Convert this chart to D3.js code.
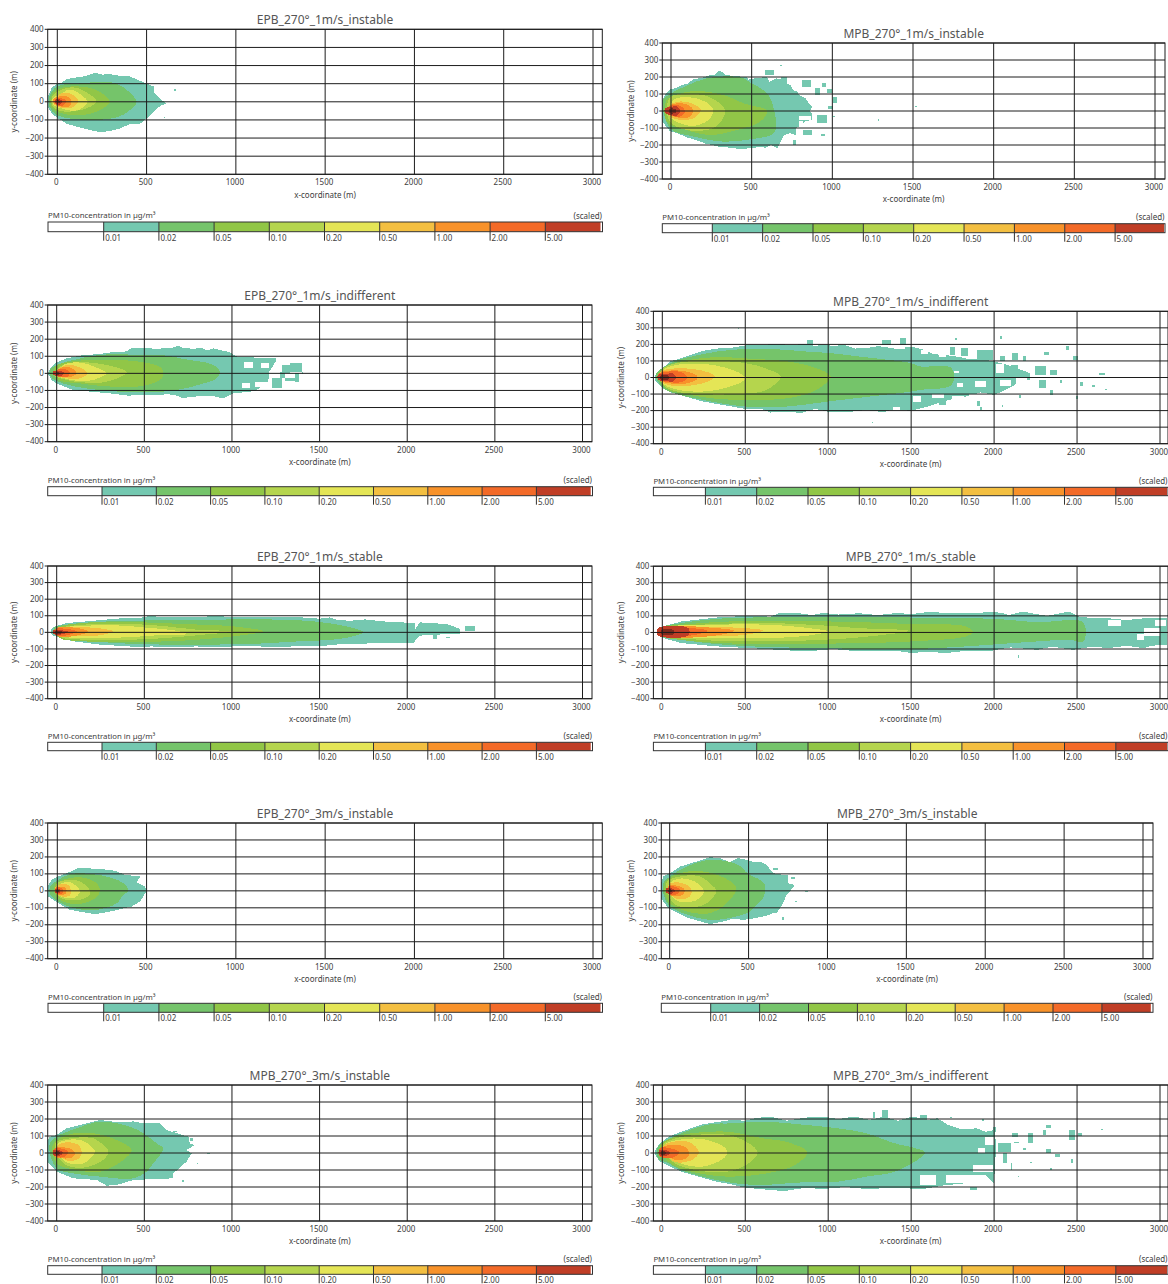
<!DOCTYPE html>
<html>
<head>
<meta charset="utf-8">
<script src="https://cdnjs.cloudflare.com/ajax/libs/d3/7.8.5/d3.min.js"></script>
<style>
	html, body { margin: 0; padding: 0; background: #fff; }
	svg { display: block; }
	text { font-family: "Noto Sans", "Open Sans", sans-serif; fill: #404040; }
</style>
</head>
<body>
<div class="chart"></div>
<script>
const panelTitles = [
	"EPB_270°_1m/s_instable", "MPB_270°_1m/s_instable",
	"EPB_270°_1m/s_indifferent", "MPB_270°_1m/s_indifferent",
	"EPB_270°_1m/s_stable", "MPB_270°_1m/s_stable",
	"EPB_270°_3m/s_instable", "MPB_270°_3m/s_instable",
	"MPB_270°_3m/s_instable", "MPB_270°_3m/s_indifferent"
];
const xTicks = [0, 500, 1000, 1500, 2000, 2500, 3000];
const yTicks = [-400, -300, -200, -100, 0, 100, 200, 300, 400];
const legendLabels = ["0.01", "0.02", "0.05", "0.10", "0.20", "0.50", "1.00", "2.00", "5.00"];
const bandColors = ["#74c8b0", "#75c46b", "#91c646", "#b5d54e", "#e4e556", "#f3bf41", "#f8922a", "#f36a28", "#c03e26", "#7d2a1a"];

// plume outlines per panel, one per concentration class, as [x, y] in metres
const p1Bands = [
	[[-50,35],[-30,80],[0,100],[30,108],[50,125],[110,135],[160,142],[210,160],[250,150],[295,152],[340,145],[400,142],[450,122],[500,100],[540,85],[545,45],[575,20],[608,-10],[575,-24],[558,-37],[510,-83],[465,-120],[410,-122],[350,-147],[300,-160],[240,-168],[160,-150],[110,-138],[50,-120],[0,-88],[-30,-65],[-50,-35]],
	[[-45,30],[0,85],[110,100],[315,105],[390,65],[445,0],[425,-30],[350,-80],[200,-100],[0,-75],[-45,-25]],
	[[-35,30],[0,68],[90,85],[220,65],[295,0],[240,-45],[125,-75],[0,-55],[-35,-25]],
	[[-30,25],[0,55],[90,80],[175,45],[220,0],[145,-42],[50,-55],[0,-45],[-30,-20]],
	[[-25,20],[10,37],[70,68],[135,37],[170,0],[145,-30],[100,-50],[25,-37],[-25,-15]],
	[[-20,15],[-10,24],[33,50],[80,42],[118,5],[80,-32],[15,-32],[-20,-12]],
	[[-22,12],[15,30],[60,28],[80,0],[60,-28],[15,-25],[-18,-8]],
	[[-15,10],[10,22],[50,5],[30,-22],[-5,-18],[-15,-5]],
	[[-12,8],[10,15],[30,0],[15,-15],[-5,-12]],
	[[-5,6],[10,8],[16,0],[10,-8],[-3,-6]]
];
const p1Holes = [];
const p1Specks = [[652,665,68,62],[595,602,-83,-90]];

const p2Bands = [
	[[-54,65],[-37,95],[-6,127],[30,135],[66,153],[100,160],[139,186],[190,195],[243,212],[270,214],[295,237],[320,230],[336,212],[400,205],[471,200],[480,185],[540,195],[595,200],[610,170],[650,192],[710,182],[720,160],[739,153],[760,120],[782,114],[800,90],[834,75],[850,50],[875,22],[860,0],[875,-20],[875,-53],[830,-60],[803,-92],[772,-100],[772,-141],[735,-130],[700,-145],[680,-180],[658,-220],[620,-200],[590,-215],[533,-214],[480,-220],[430,-225],[370,-215],[305,-214],[260,-200],[222,-194],[150,-170],[97,-155],[40,-130],[-6,-120],[-54,-63]],
	[[-48,65],[-6,100],[97,149],[222,192],[430,198],[500,163],[600,100],[640,0],[650,-110],[620,-141],[490,-167],[326,-180],[139,-150],[-6,-102]],
	[[-27,65],[35,94],[139,118],[326,94],[450,45],[595,0],[553,-63],[408,-112],[243,-141],[97,-112],[-27,-63]],
	[[-6,80],[118,100],[243,80],[336,5],[284,-88],[160,-118],[35,-92],[-20,-40]],
	[[15,65],[118,80],[212,55],[263,5],[232,-53],[139,-88],[56,-72],[-10,-30]],
	[[-6,35],[46,55],[129,45],[185,5],[139,-43],[35,-49],[-20,-20]],
	[[-16,25],[35,45],[108,35],[139,0],[108,-37],[35,-37],[-20,-10]],
	[[-27,17],[25,35],[66,25],[87,0],[66,-30],[10,-30],[-27,-10]],
	[[-37,15],[0,25],[40,25],[60,0],[40,-25],[0,-25],[-37,-10]],
	[[-10,12],[25,12],[35,0],[25,-12],[-10,-12]]
];
const p2Holes = [[793,865,-30,-53],[793,820,-60,-100]];
const p2Specks = [[585,637,240,210],[680,720,200,170],[755,775,-170,-200],[813,865,182,143],[895,925,133,94],[938,960,162,143],[965,1000,127,104],[1006,1030,84,45],[973,1006,29,10],[906,970,-24,-73],[820,875,-112,-141],[930,955,-137,-147],[1280,1292,-47,-57],[1512,1522,31,24],[1006,1014,-28,-34],[678,686,272,266]];

const p3Bands = [
	[[-48,6],[-29,40],[0,65],[57,88],[133,104],[247,114],[342,127],[400,128],[420,145],[456,150],[532,150],[560,140],[610,148],[650,148],[694,160],[720,150],[780,143],[820,150],[860,135],[894,147],[940,135],[989,123],[1027,98],[1141,92],[1249,92],[1249,68],[1211,6],[1207,-53],[1131,-104],[1008,-118],[950,-147],[900,-135],[817,-131],[770,-140],[713,-143],[670,-125],[627,-123],[530,-128],[470,-125],[409,-131],[330,-120],[247,-112],[95,-98],[0,-59],[-29,-39],[-48,-6]],
	[[-38,20],[0,49],[95,78],[247,108],[494,108],[627,104],[722,84],[894,49],[931,6],[913,-29],[817,-65],[684,-98],[494,-112],[247,-98],[95,-75],[0,-45],[-38,-15]],
	[[-10,39],[114,73],[323,78],[494,65],[600,29],[600,-29],[494,-73],[323,-78],[133,-59],[0,-33]],
	[[19,39],[133,65],[285,49],[400,6],[285,-49],[152,-53],[57,-39],[-15,-10]],
	[[38,49],[133,63],[228,33],[285,0],[247,-25],[171,-45],[57,-33],[5,-10]],
	[[19,33],[76,49],[143,29],[175,0],[133,-29],[57,-29],[0,-10]],
	[[10,25],[57,39],[95,25],[114,0],[85,-20],[30,-22],[-10,-5]],
	[[-5,18],[40,25],[70,15],[76,0],[60,-20],[10,-20],[-10,-5]],
	[[-19,12],[10,15],[38,8],[38,-8],[10,-15],[-19,-8]],
	[[-5,6],[15,6],[18,0],[15,-6],[-5,-6]]
];
const p3Holes = [[1070,1122,68,33],[1163,1210,59,33],[1055,1103,-59,-88],[1131,1207,-53,-78]];
const p3Specks = [[1226,1283,-29,-84],[1283,1331,49,0],[1331,1397,59,8],[1274,1303,10,-30],[1303,1360,-25,-45],[1360,1380,0,-49],[1397,1405,6,-4]];

const p4Bands = [
	[[-47,0],[-36,26],[0,56],[49,97],[114,117],[243,161],[371,181],[420,180],[500,194],[600,198],[714,202],[780,195],[865,205],[920,190],[972,198],[1040,190],[1090,198],[1160,175],[1230,177],[1300,190],[1400,175],[1498,187],[1570,170],[1640,140],[1700,137],[1780,125],[1830,117],[1930,110],[2002,97],[2100,70],[2217,26],[2217,-14],[2150,-30],[2080,-70],[2002,-105],[1920,-90],[1830,-115],[1750,-130],[1660,-155],[1600,-175],[1498,-202],[1400,-190],[1330,-210],[1230,-196],[1110,-210],[998,-206],[920,-190],[840,-214],[736,-206],[650,-212],[600,-190],[500,-190],[400,-172],[243,-145],[49,-89],[0,-64],[-47,-14]],
	[[-40,16],[6,60],[71,97],[243,141],[414,167],[650,173],[865,157],[1015,147],[1187,127],[1358,107],[1498,87],[1552,67],[1745,56],[1745,-44],[1552,-75],[1498,-85],[1251,-115],[998,-145],[758,-175],[500,-175],[243,-135],[71,-95],[6,-64]],
	[[-26,20],[28,66],[114,97],[328,123],[536,113],[758,97],[929,56],[1015,6],[929,-75],[758,-125],[536,-135],[328,-129],[114,-95],[28,-70]],
	[[-5,46],[71,83],[243,101],[500,87],[629,52],[714,6],[629,-75],[500,-97],[243,-101],[71,-81],[0,-40]],
	[[6,46],[71,73],[243,83],[393,56],[496,6],[496,-14],[393,-60],[243,-85],[71,-69],[0,-30]],
	[[-15,32],[49,52],[178,52],[275,32],[318,6],[285,-20],[178,-48],[49,-48],[-15,-20]],
	[[-15,26],[49,42],[146,36],[210,10],[210,-10],[146,-36],[49,-36],[-15,-16]],
	[[-26,20],[38,36],[114,32],[146,10],[146,-10],[114,-28],[38,-28],[-26,-12]],
	[[-26,16],[20,22],[70,22],[82,0],[70,-22],[20,-22],[-26,-12]],
	[[-10,12],[35,14],[45,0],[35,-14],[-10,-12]]
];
const p4Holes = [[1670,1710,167,125],[1830,1880,147,110],[1777,1815,-34,-60],[1884,1950,-24,-55],[2013,2060,80,30],[2034,2100,-14,-50],[2131,2200,-4,-40],[1510,1560,-110,-150],[1627,1700,-100,-125],[1745,1820,-110,-140],[1850,1990,-100,-140],[1390,1430,-180,-200],[1405,1460,195,170],[1560,1600,165,145],[1920,1960,140,115],[1760,1790,40,25],[1640,1660,30,15]];
const p4Specks = [[2034,2045,248,234],[2109,2142,147,107],[2174,2195,127,97],[2303,2328,157,137],[2431,2449,188,167],[2474,2506,127,107],[2249,2313,67,16],[2335,2378,46,16],[2270,2313,-14,-65],[2399,2410,-14,-34],[2517,2534,-28,-54],[2592,2609,-44,-56],[2635,2667,30,16],[2667,2678,-68,-76],[2491,2506,-109,-129],[2335,2356,-75,-105],[1895,1916,-145,-175],[1912,1927,-181,-198],[2152,2163,-105,-121],[2045,2056,-169,-179],[1262,1270,-268,-276],[457,465,302,294],[1766,1775,236,228],[1734,1766,187,137],[1798,1841,177,127],[1895,1991,167,107],[2034,2067,127,97],[2099,2142,77,36],[1670,1712,-125,-165],[875,908,228,198],[1326,1380,228,198],[1433,1470,238,198]];

const p5Bands = [
	[[-34,16],[-10,36],[57,56],[209,70],[342,83],[480,88],[530,98],[627,91],[700,95],[800,92],[900,98],[1008,93],[1150,92],[1250,95],[1388,93],[1430,85],[1502,83],[1560,90],[1600,75],[1673,70],[1760,78],[1863,66],[2044,56],[2044,16],[2072,60],[2224,50],[2300,22],[2300,-10],[2148,-14],[2072,-20],[2034,-64],[1863,-64],[1578,-74],[1500,-85],[1400,-80],[1293,-89],[1150,-85],[1008,-85],[900,-90],[800,-85],[627,-89],[540,-85],[475,-89],[247,-74],[95,-54],[-10,-24],[-34,-10]],
	[[-19,26],[57,46],[209,62],[437,70],[817,76],[1293,76],[1502,62],[1692,26],[1749,0],[1692,-24],[1578,-44],[1388,-54],[1103,-70],[817,-74],[437,-70],[209,-54],[57,-34]],
	[[10,26],[152,56],[437,62],[722,50],[1008,36],[1179,6],[1008,-24],[722,-50],[437,-58],[152,-54],[10,-30]],
	[[19,20],[152,46],[437,50],[627,36],[798,16],[1008,6],[798,-18],[627,-34],[437,-44],[152,-44],[19,-25]],
	[[57,26],[171,40],[342,42],[494,30],[703,6],[741,-10],[570,-18],[399,-30],[171,-34],[57,-24]],
	[[10,20],[95,30],[228,26],[323,6],[247,-18],[95,-24],[10,-16]],
	[[0,26],[114,26],[180,6],[114,-20],[0,-20]],
	[[-10,20],[60,20],[114,6],[60,-18],[-10,-16]],
	[[-19,12],[30,12],[67,4],[30,-12],[-19,-10]],
	[[-8,8],[25,8],[30,0],[25,-8],[-8,-8]]
];
const p5Holes = [];
const p5Specks = [[2328,2385,36,6],[2148,2167,-14,-38],[2224,2243,-28,-34]];

const p6Bands = [
	[[-32,16],[6,36],[114,66],[328,90],[536,102],[650,95],[700,115],[822,116],[900,105],[972,118],[1060,108],[1187,116],[1300,105],[1420,118],[1500,110],[1616,126],[1720,115],[1800,120],[1900,118],[2002,126],[2090,105],[2174,126],[2260,110],[2320,100],[2451,126],[2515,96],[2600,85],[2687,86],[2800,75],[2900,85],[3041,86],[3041,-74],[2950,-80],[2901,-95],[2800,-80],[2687,-95],[2600,-85],[2474,-105],[2350,-85],[2260,-105],[2100,-90],[1959,-115],[1840,-110],[1702,-125],[1600,-115],[1508,-125],[1400,-110],[1187,-115],[1030,-100],[865,-115],[700,-105],[536,-95],[328,-84],[114,-64],[6,-34],[-32,-14]],
	[[-15,26],[114,56],[328,82],[536,90],[972,96],[1508,90],[2002,82],[2260,62],[2538,60],[2538,-54],[2451,-44],[2260,-54],[1830,-84],[1508,-100],[972,-95],[536,-84],[328,-70],[114,-44],[-15,-18]],
	[[6,26],[156,50],[536,70],[1187,62],[1508,50],[1830,36],[1873,2],[1830,-24],[1508,-54],[1187,-64],[536,-70],[156,-50],[6,-20]],
	[[28,26],[221,46],[650,56],[972,42],[1187,26],[1487,10],[1187,-30],[972,-44],[650,-54],[221,-44],[28,-15]],
	[[38,26],[328,46],[650,46],[886,26],[998,6],[886,-18],[650,-34],[328,-34],[38,-15]],
	[[49,26],[285,32],[500,26],[607,12],[500,-14],[285,-24],[49,-18]],
	[[38,26],[328,26],[436,10],[328,-18],[38,-18]],
	[[28,26],[178,26],[275,10],[178,-18],[28,-18]],
	[[-26,26],[157,26],[157,-18],[-26,-18]],
	[[-6,14],[70,14],[70,-10],[-6,-10]]
];
const p6Holes = [[2689,2764,76,36],[2903,3000,26,-24],[2861,2903,-10,-44],[2969,3034,76,36]];
const p6Specks = [[2142,2152,-139,-155],[2040,2060,115,105],[2170,2190,125,100],[1610,1650,126,115]];

const p7Bands = [
	[[-50,35],[-32,65],[6,85],[52,104],[118,134],[180,132],[240,130],[324,118],[380,94],[464,85],[445,51],[492,26],[500,0],[492,-14],[464,-63],[417,-92],[315,-118],[212,-138],[71,-112],[6,-73],[-50,-33]],
	[[-41,25],[6,65],[71,98],[183,100],[296,79],[370,45],[399,0],[370,-24],[333,-73],[221,-112],[109,-106],[6,-63],[-41,-20]],
	[[-13,35],[34,65],[137,79],[221,45],[240,0],[212,-43],[109,-79],[15,-53],[-13,-20]],
	[[-4,41],[62,65],[127,55],[180,6],[180,-24],[127,-53],[34,-49],[-4,-20]],
	[[11,35],[71,51],[127,0],[100,-39],[52,-43],[5,-20]],
	[[-13,22],[24,39],[62,35],[75,6],[71,-27],[24,-33],[-10,-15]],
	[[-10,18],[20,25],[49,18],[49,-15],[20,-25],[-10,-12]],
	[[-8,14],[15,20],[34,8],[25,-18],[-8,-12]],
	[[-12,10],[15,10],[15,-10],[-12,-10]],
	[[-5,5],[8,5],[8,-5],[-5,-5]]
];
const p7Holes = [];
const p7Specks = [];

const p8Bands = [
	[[-57,35],[-40,85],[2,104],[65,143],[171,173],[255,198],[319,193],[380,170],[435,193],[487,183],[530,170],[572,173],[614,153],[656,104],[751,90],[751,45],[793,35],[770,6],[740,-24],[719,-73],[677,-132],[656,-132],[600,-150],[540,-161],[466,-171],[400,-165],[340,-181],[255,-196],[108,-157],[-8,-102],[-57,-43]],
	[[-44,35],[2,85],[108,143],[255,183],[435,153],[497,100],[572,65],[603,35],[593,-43],[550,-83],[508,-122],[424,-151],[255,-171],[86,-132],[-8,-82]],
	[[-30,45],[65,104],[213,114],[350,75],[424,16],[350,-83],[255,-132],[108,-122],[-8,-63]],
	[[-20,50],[65,85],[192,85],[266,35],[297,0],[234,-73],[129,-98],[23,-73]],
	[[-8,35],[55,71],[150,59],[217,0],[192,-40],[129,-67],[34,-53]],
	[[-8,35],[44,51],[108,35],[139,0],[118,-40],[34,-43]],
	[[-8,28],[40,32],[80,20],[97,0],[80,-25],[30,-32],[-8,-20]],
	[[-12,22],[35,24],[65,5],[40,-22],[-12,-18]],
	[[-20,15],[15,15],[35,2],[15,-15],[-20,-12]],
	[[-8,6],[15,6],[15,-6],[-8,-6]]
];
const p8Holes = [];
const p8Specks = [[770,793,84,71],[656,688,134,124],[857,878,0,-8],[793,804,-59,-67],[713,726,-157,-169]];

const p9Bands = [
	[[-53,76],[-38,96],[0,106],[57,145],[133,165],[247,194],[361,180],[437,186],[494,175],[589,175],[627,135],[751,96],[760,57],[789,47],[741,18],[770,-2],[741,-51],[665,-120],[665,-149],[437,-159],[342,-188],[285,-192],[228,-159],[95,-149],[0,-110],[-53,-51]],
	[[-42,47],[0,96],[114,145],[247,184],[418,155],[494,116],[570,57],[608,27],[589,-12],[551,-61],[513,-110],[437,-149],[247,-139],[95,-120],[0,-90]],
	[[-23,47],[57,106],[209,116],[342,76],[428,18],[380,-41],[247,-110],[114,-100],[0,-61]],
	[[-10,57],[76,86],[209,86],[266,47],[295,8],[266,-41],[152,-86],[38,-61]],
	[[0,47],[57,76],[152,71],[219,8],[200,-22],[152,-61],[48,-51]],
	[[0,37],[57,63],[124,47],[143,8],[124,-35],[48,-41]],
	[[-8,30],[50,32],[90,20],[105,0],[90,-25],[35,-32],[-8,-20]],
	[[-12,24],[35,24],[67,5],[40,-24],[-12,-18]],
	[[-20,15],[20,15],[35,2],[20,-15],[-20,-12]],
	[[-8,7],[18,7],[18,-7],[-8,-7]]
];
const p9Holes = [];
const p9Specks = [[665,684,131,125],[798,808,-61,-67],[855,874,-2,-6],[713,728,-159,-169],[760,780,90,70]];

const p10Bands = [
	[[-41,18],[-15,57],[39,96],[114,125],[243,169],[414,194],[500,190],[560,205],[650,214],[750,190],[860,208],[972,214],[1060,200],[1159,214],[1250,195],[1337,214],[1420,190],[1509,214],[1600,195],[1659,204],[1690,185],[1723,165],[1800,140],[1895,145],[1950,125],[2002,135],[2013,47],[2002,-129],[2002,-184],[1950,-130],[1900,-130],[1830,-178],[1700,-190],[1573,-212],[1400,-205],[1230,-212],[1100,-200],[972,-212],[860,-205],[736,-224],[620,-215],[500,-204],[420,-185],[328,-169],[114,-110],[-15,-51],[-41,-12]],
	[[-26,37],[39,82],[114,116],[285,169],[414,174],[607,184],[865,165],[1058,145],[1230,116],[1401,57],[1530,27],[1584,4],[1552,-31],[1401,-110],[1230,-139],[1058,-169],[843,-173],[543,-188],[328,-159],[114,-100],[39,-61],[-26,-31]],
	[[-15,37],[49,86],[178,116],[393,125],[607,86],[757,63],[875,4],[800,-71],[628,-120],[393,-139],[178,-110],[49,-61]],
	[[-4,37],[49,76],[200,106],[393,106],[521,57],[575,4],[521,-61],[393,-110],[200,-100],[60,-51]],
	[[17,47],[92,76],[243,82],[371,37],[393,4],[371,-31],[243,-80],[92,-51]],
	[[6,37],[71,67],[167,63],[221,4],[178,-41],[71,-51]],
	[[2,31],[49,47],[135,37],[161,4],[146,-31],[60,-35]],
	[[-15,28],[49,28],[103,4],[60,-28],[-15,-20]],
	[[-20,16],[25,16],[50,2],[25,-16],[-20,-12]],
	[[-8,8],[20,8],[20,-8],[-8,-8]]
];
const p10Holes = [[1552,1650,-129,-188],[1712,1938,-129,-178],[1873,1991,-71,-110],[1948,2002,96,47],[1900,1945,27,-2]];
const p10Specks = [[2024,2099,57,8],[2056,2077,-2,-61],[2099,2110,-61,-100],[2120,2152,67,57],[2206,2234,116,57],[2313,2345,165,145],[2292,2313,135,106],[2453,2485,135,76],[2506,2528,116,102],[2646,2657,141,133],[2313,2345,22,2],[2367,2399,-6,-22],[2464,2475,-37,-57],[2217,2228,-51,-57],[2335,2346,-90,-98],[2142,2153,-133,-141],[2110,2142,116,96],[2174,2195,27,20],[1273,1284,243,204],[1326,1358,253,204],[1552,1594,224,194],[1734,1745,214,206],[1927,1938,198,190],[1991,2013,155,125],[1852,1895,-198,-218]];

const allBands = [p1Bands, p2Bands, p3Bands, p4Bands, p5Bands, p6Bands, p7Bands, p8Bands, p9Bands, p10Bands];
const allHoles = [p1Holes, p2Holes, p3Holes, p4Holes, p5Holes, p6Holes, p7Holes, p8Holes, p9Holes, p10Holes];
const allSpecks = [p1Specks, p2Specks, p3Specks, p4Specks, p5Specks, p6Specks, p7Specks, p8Specks, p9Specks, p10Specks];

// where each panel sits on the page: frame, x=0, x=3000, legend box, first legend tick, legend tick step, y label x
const frames = [
	[47.7, 602.3, 29.3, 174.3, 57.3, 593, 48, 602.5, 222, 231.7, 103.7, 55.2, 14],
	[662.3, 1165, 43, 179, 671, 1155, 662.3, 1165, 223.7, 232.7, 712.3, 50.35, 631.7],
	[47.7, 592, 305, 441.7, 56.7, 582.5, 47.7, 592.5, 486.7, 495.7, 102, 54.3, 14],
	[653.4, 1168, 311.3, 443.7, 662.3, 1160, 653.4, 1168, 487.3, 495.7, 705.4, 51.3, 621.7],
	[47.7, 592, 566, 698.7, 56.7, 582.5, 47.7, 592.5, 742.3, 750.7, 102, 54.3, 14],
	[653.4, 1168, 566.2, 698.7, 662.3, 1160, 653.4, 1168, 742.3, 750.7, 705.4, 51.3, 621.7],
	[47.7, 602.3, 823, 958.7, 57.3, 593, 48, 602.5, 1003.3, 1012.3, 103.7, 55.2, 14],
	[661.3, 1153, 823, 958.7, 669.7, 1143, 661.3, 1153, 1003.3, 1012.3, 710.7, 48.9, 631.7],
	[47.7, 592, 1085, 1221, 56.7, 582.5, 47.7, 592.5, 1265.7, 1274.3, 102, 54.3, 14],
	[653.4, 1168, 1085, 1221, 662.3, 1160, 653.4, 1168, 1265.7, 1274.3, 705.4, 51.3, 621.7]
];

const width = 1168;
const height = 1284;
const lineColor = "#1c1c1c";

const svg = d3.select("div.chart").append("svg")
	.attr("width", width)
	.attr("height", height);

svg.append("defs").append("filter").attr("id", "soft")
	.append("feGaussianBlur").attr("stdDeviation", 0.35);

panelTitles.forEach((title, i) => drawPanel(i, title));

function drawPanel(i, title) {
	const [left, right, top, bottom, x0, x3000, legLeft, legRight, legTop, legBottom, legFirst, legStep, yLabelX] = frames[i];
	const x = d3.scaleLinear().domain([0, 3000]).range([x0, x3000]);
	const y = d3.scaleLinear().domain([-400, 400]).range([bottom, top]);
	const g = svg.append("g").attr("class", "panel p" + i);

	const clipId = "clip" + i;
	g.append("clipPath").attr("id", clipId)
		.append("rect")
		.attr("x", left).attr("y", top)
		.attr("width", right - left).attr("height", bottom - top);

	// plume: classes stacked from the weakest to the strongest
	const plume = g.append("g").attr("clip-path", "url(#" + clipId + ")")
		.append("g").attr("filter", "url(#soft)").attr("shape-rendering", "crispEdges");
	const rough = d3.line().x(d => x(d[0])).y(d => y(d[1])).curve(d3.curveLinearClosed);
	const smooth = d3.line().x(d => x(d[0])).y(d => y(d[1])).curve(d3.curveCatmullRomClosed);

	const cell = (sel, rows, color) => sel.selectAll(null).data(rows).enter().append("rect")
		.attr("x", d => x(d[0]))
		.attr("width", d => x(d[1]) - x(d[0]))
		.attr("y", d => y(d[2]))
		.attr("height", d => y(d[3]) - y(d[2]))
		.attr("fill", color);

	allBands[i].forEach((band, b) => {
		plume.append("path").attr("d", b === 0 ? rough(band) : smooth(band)).attr("fill", bandColors[b]);
		if (b === 0) {
			cell(plume, allHoles[i], "#fff");
			cell(plume, allSpecks[i], bandColors[0]);
		}
	});

	// grid, labels and frame
	const xAxis = g.append("g")
		.attr("transform", "translate(0," + bottom + ")")
		.call(d3.axisBottom(x).tickValues(xTicks).tickSize(top - bottom).tickPadding(0).offset(0).tickFormat(d3.format("d")));
	const yAxis = g.append("g")
		.attr("transform", "translate(" + right + ",0)")
		.call(d3.axisLeft(y).tickValues(yTicks).tickSize(right - left + 3).tickPadding(1).offset(0).tickFormat(d3.format("d")));
	[xAxis, yAxis].forEach(a => {
		a.select(".domain").remove();
		a.selectAll("line").attr("stroke", lineColor).attr("stroke-width", 1);
		a.selectAll("text").attr("font-size", 8).style("font-family", null);
		a.attr("font-family", null);
	});
	xAxis.selectAll("text").attr("y", 8.5).attr("dy", "0.32em").attr("dx", -1);

	g.append("rect")
		.attr("x", left).attr("y", top)
		.attr("width", right - left).attr("height", bottom - top)
		.attr("fill", "none").attr("stroke", lineColor).attr("stroke-width", 1);

	g.append("text").attr("x", (left + right) / 2).attr("y", top - 9.5)
		.attr("text-anchor", "middle").attr("dy", "0.36em")
		.attr("font-size", 12).style("fill", "#555").text(title);
	g.append("text").attr("x", (left + right) / 2).attr("y", bottom + 20.8)
		.attr("text-anchor", "middle").attr("dy", "0.32em")
		.attr("font-size", 8).text("x-coordinate (m)");
	g.append("text")
		.attr("transform", "translate(" + yLabelX + "," + (top + bottom) / 2 + ") rotate(-90)")
		.attr("text-anchor", "middle").attr("dy", "0.32em")
		.attr("font-size", 8).text("y-coordinate (m)");

	drawLegend(g, legLeft, legRight, legTop, legBottom, legFirst, legStep);
}

function drawLegend(g, legLeft, legRight, legTop, legBottom, legFirst, legStep) {
	const legX = d3.scaleLinear().domain([0, legendLabels.length]).range([legFirst, legFirst + legStep * legendLabels.length]);
	g.append("rect")
		.attr("x", legLeft).attr("y", legTop)
		.attr("width", legRight - legLeft).attr("height", legBottom - legTop)
		.attr("fill", "#fff");
	g.selectAll("rect.swatch").data(legendLabels).enter().append("rect")
		.attr("class", "swatch")
		.attr("x", (d, k) => legX(k))
		.attr("y", legTop)
		.attr("width", (d, k) => Math.min(legX(k + 1), legRight - 1) - legX(k))
		.attr("height", legBottom - legTop)
		.attr("fill", (d, k) => bandColors[k]);
	g.append("rect")
		.attr("x", legLeft).attr("y", legTop)
		.attr("width", legRight - legLeft).attr("height", legBottom - legTop)
		.attr("fill", "none").attr("stroke", "#333").attr("stroke-width", 1);
	g.selectAll("line.legtick").data(legendLabels).enter().append("line")
		.attr("class", "legtick")
		.attr("x1", (d, k) => legX(k)).attr("x2", (d, k) => legX(k))
		.attr("y1", legTop).attr("y2", legBottom + 9)
		.attr("stroke", "#333");
	g.selectAll("text.leglabel").data(legendLabels).enter().append("text")
		.attr("class", "leglabel")
		.attr("x", (d, k) => legX(k) + 1.5)
		.attr("y", legBottom + 6.3)
		.attr("dy", "0.32em").attr("font-size", 8)
		.text(d => d);
	g.append("text").attr("x", legLeft).attr("y", legTop - 6)
		.attr("dy", "0.32em").attr("font-size", 7.8).text("PM10-concentration in µg/m³");
	g.append("text").attr("x", legRight - 0.5).attr("y", legTop - 6)
		.attr("text-anchor", "end").attr("dy", "0.32em").attr("font-size", 8).text("(scaled)");
}
</script>
</body>
</html>
